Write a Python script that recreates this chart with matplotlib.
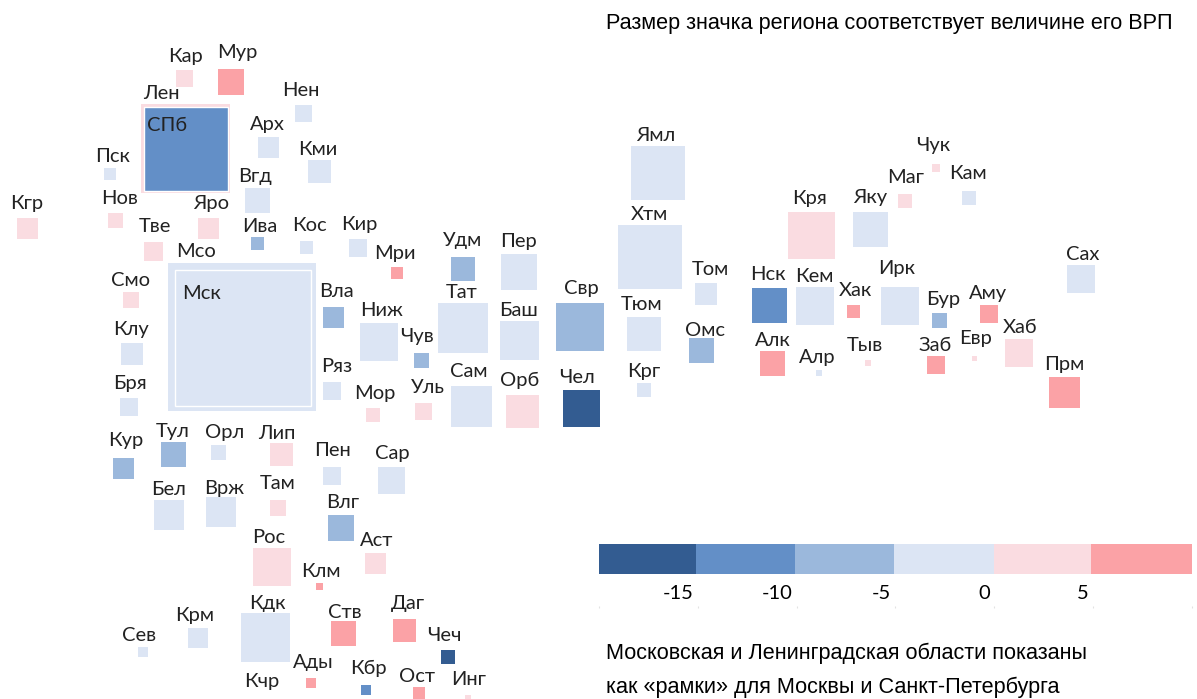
import matplotlib
matplotlib.use("Agg")
import matplotlib.pyplot as plt
from matplotlib.colors import ListedColormap, BoundaryNorm
from matplotlib.transforms import ScaledTranslation

names = ["Кар","Мур","Нен","Арх","Кми","Пск","Вгд","Кгр","Нов","Яро","Тве","Ива","Кос",
         "Смо","Клу","Бря","Вла","Ниж","Чув","Ряз","Мор","Уль","Кур","Тул","Орл","Лип","Пен","Сар",
         "Бел","Врж","Там","Влг","Рос","Аст","Клм","Кдк","Ств","Даг","Чеч","Крм","Сев","Ады","Кбр","Ост","Инг",
         "Мри","Кир","Удм","Пер","Тат","Баш","Свр","Сам","Орб","Чел","Ямл","Хтм","Том","Тюм","Омс","Крг",
         "Кря","Яку","Чук","Маг","Кам","Нск","Кем","Ирк","Хак","Бур","Аму","Алк","Алр","Тыв","Заб","Евр","Хаб","Прм","Сах"]
square_x = [184.5,231,303,268.5,319.5,110,257,27,115.5,208.5,153,257.5,306.5,
            131,132,128.5,333.5,379,421.5,332,373,423.5,123.5,173.5,218.5,281.5,332,391.5,
            169,221,278,341,272,375.5,319.5,265.5,343.5,404.5,448,198,143,311,366,419,468,
            397,357.5,463,519,463,519.5,580,471.5,522.5,581.5,658,650,706,644,701.5,643.5,
            811.5,870,936,905,968.5,769,815,900,853.5,939,989,772.5,819,868,936,974.5,1018.5,1064,1081]
square_y = [78.5,81.5,113.5,147.5,171.5,174,200,228,220.5,228,251,243.5,247.5,
            300,354,407,317.5,341.5,360.5,391,414.5,411.5,468,454.5,452.5,454,476,480,
            515,512,507.5,528,567,563,586.5,637,633,630.5,656.5,638,651.5,683,690,692.5,698,
            272.5,247.5,268.5,272,328,340,326.5,406,411.5,408,172.5,257,294,333.5,350,390,
            235,229,168,201,197.5,305.5,305.5,306,311.5,320.5,314,363.5,373,363,364.5,358.5,353,392.5,279]
square_size = [17,26,17,21,23,12,25,21,15,21,19,13,13,
               16,22,18,21,38,15,18,14,17,21,25,15,23,18,27,
               30,30,16,26,38,21,7,49,25,23,14,20,10,10,10,12,6,
               12,18,24,36,50,39,48,41,33,37,54,64,22,34,25,14,
               47,35,8,14,14,35,38,38,13,15,18,25,6,6,18,5,28,31,28]
growth = [3,7,-2,-2,-2,-2,-2,3,3,3,3,-7,-2,
          3,-2,-2,-7,-2,-7,-2,3,3,-7,-7,-2,3,-2,-2,
          -2,-2,3,-7,3,3,7,-2,7,7,-17,-2,-2,7,-12,7,3,
          7,-2,-7,-2,-2,-2,-7,-2,3,-17,-2,-2,-2,-2,-7,-2,
          3,-2,3,3,-2,-12,-2,-2,7,-7,7,7,-2,3,7,3,3,7,-2]
label_x = [186,237,301,267,318,113,255,27,120,211,155,260,309,
           131,131,130,336,382,417,337,375,428,126,173,225,277,332,392,
           169,224,278,343,269,377,321,267,345,408,444,195,139,313,368,417,469,
           395,359,463,519,462,519,581,469,520,577,656,649,710,642,705,644,
           810,870,933,906,968,768,814,897,855,943,988,773,817,865,935,976,1020,1064,1083]
label_y = [56,52,90,124,149,156,176,203,198,203,226,226,225,
           280,329,383,291,310,336,366,393,387,440,431,432,433,450,453,
           489,488,483,502,537,540,571,603,612,603,635,615,635,662,668,676,679,
           253,224,240,241,292,310,288,371,380,377,135,214,269,304,330,371,
           198,197,145,177,173,274,276,268,290,299,293,340,357,345,345,338,327,364,254]
# Oblasts shown as frames around their cities
frame_names = ["Лен","Мсо"]
frame_x = [185,242]
frame_y = [148,337]
frame_size = [89,148]
frame_growth = [3,-2]
frame_label_x = [161,196]
frame_label_y = [93,251]
city_names = ["СПб","Мск"]
city_x = [186,243]
city_y = [149,338]
city_size = [84,136]
city_growth = [-12,-2]
city_label_x = [167,201]
city_label_y = [125,293]
extra_names = ["Кчр"]
extra_x = [262]
extra_y = [681]

bin_edges = [-20,-15,-10,-5,0,5,10]
legend_bar_edges = [-20,-15.09,-10.09,-5.08,0,4.89,10]
bin_colors = ["#335C91","#638FC7","#9BB8DC","#DCE5F4","#FADCE1","#FBA2A6"]
tick_values = [-20,-15,-10,-5,0,5,10]
tick_labels = ["","-15","-10","-5","0","5",""]
title = "Размер значка региона соответствует величине его ВРП"
note_lines = ["Московская и Ленинградская области показаны","как «рамки» для Москвы и Санкт-Петербурга"]

cmap = ListedColormap(bin_colors)
norm = BoundaryNorm(bin_edges, cmap.N)
W, H = 1197, 699
LABEL_FONT = ["Lato","Noto Sans","DejaVu Sans"]
fig = plt.figure(figsize=(W/100,H/100),dpi=100,facecolor="white")
ax = fig.add_axes([0,0,1,1])
ax.set_xlim(0,W); ax.set_ylim(H,0); ax.axis("off")

def squares(xs,ys,ss,vals,**kw):
    ax.bar(xs,ss,width=ss,bottom=[y-s/2 for y,s in zip(ys,ss)],color=[cmap(norm(v)) for v in vals],**kw)

squares(square_x,square_y,square_size,growth,edgecolor="none")
squares(frame_x,frame_y,frame_size,frame_growth,edgecolor="none")
squares(city_x,city_y,city_size,city_growth,edgecolor="white",linewidth=1.0)

def labels(ns,xs,ys):
    for n,x,y in zip(ns,xs,ys):
        ax.text(x,y+0.8,n,ha="center",va="center",fontsize=14.5,family=LABEL_FONT,color="#222222")
labels(names,label_x,label_y)
labels(frame_names,frame_label_x,frame_label_y)
labels(city_names,city_label_x,city_label_y)
labels(extra_names,extra_x,extra_y)

ax.text(606,24,title,ha="left",va="center",fontsize=15.6,family="Liberation Sans",color="black")
for line,y in zip(note_lines,[653,687]):
    ax.text(606,y,line,ha="left",va="center",fontsize=15.6,family="Liberation Sans",color="black")

x0,x1 = 599,1192
lax = fig.add_axes([x0/W,1-606/H,(x1-x0)/W,(606-544)/H])
lax.set_xlim(-20,10)
lax.set_ylim(62,0)
for a,b,c in zip(legend_bar_edges[:-1],legend_bar_edges[1:],bin_colors):
    lax.bar((a+b)/2,30,width=b-a,bottom=0,color=c,edgecolor="none")
for s in lax.spines.values(): s.set_visible(False)
lax.set_yticks([])
lax.patch.set_alpha(0)
lax.set_xticks(tick_values)
lax.set_xticklabels(tick_labels,ha="right",family=LABEL_FONT,fontsize=14.5)
lax.tick_params(axis="x",length=1.5,width=0.8,color="#e2e2e2",pad=-16.7,labelcolor="black")
shift = ScaledTranslation(-3.2/72,0,fig.dpi_scale_trans)
for lab in lax.get_xticklabels():
    lab.set_transform(lab.get_transform()+shift)
fig.savefig("out.png",dpi=100)
